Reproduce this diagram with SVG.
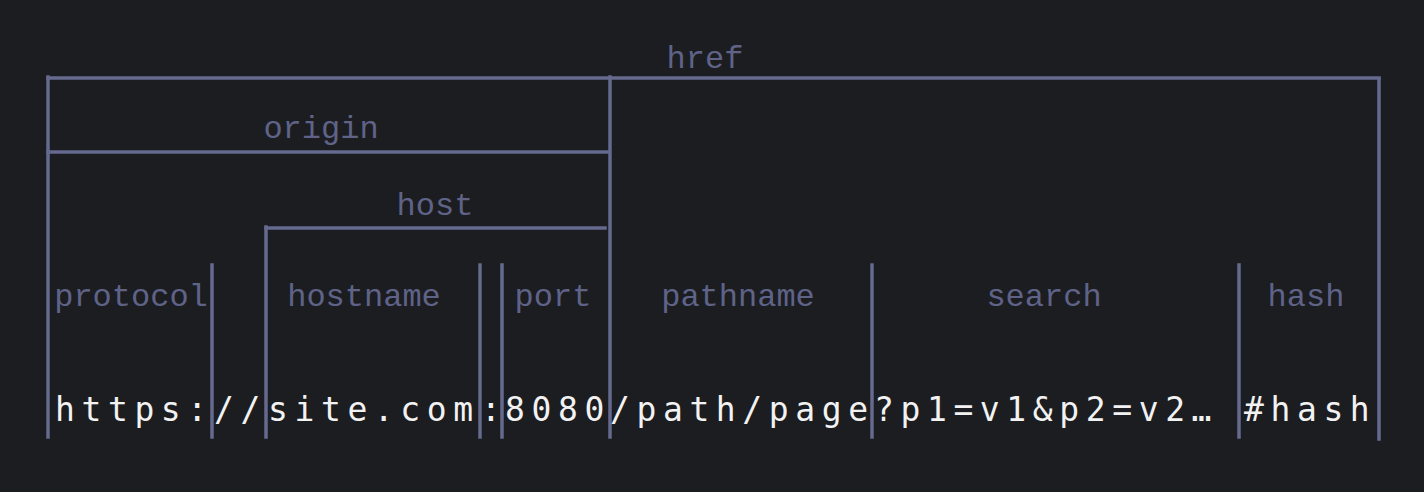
<svg xmlns="http://www.w3.org/2000/svg" width="1424" height="492" viewBox="0 0 1424 492">
<style>
.ln{stroke:#666a8e;stroke-width:3.5;fill:none;stroke-linecap:square}
.lbl{font-family:"Liberation Mono","DejaVu Sans Mono",monospace;font-size:32px;fill:#5f6388;text-anchor:middle}
.url{font-family:"DejaVu Sans Mono","Liberation Mono",monospace;font-size:33px;fill:#f2f2f2;letter-spacing:6.6px}
</style>
<rect x="0" y="0" width="1424" height="492" fill="#1c1d21"/>
<g id="connectors">
<line class="ln" x1="48" y1="78" x2="1379" y2="78"/>
<line class="ln" x1="48" y1="152" x2="609" y2="152"/>
<line class="ln" x1="266" y1="228" x2="605" y2="228"/>
<line class="ln" x1="48" y1="77" x2="48" y2="437"/>
<line class="ln" x1="610" y1="77" x2="610" y2="437"/>
<line class="ln" x1="1379" y1="79" x2="1379" y2="439"/>
<line class="ln" x1="266" y1="227" x2="266" y2="437"/>
<line class="ln" x1="212" y1="265" x2="212" y2="437"/>
<line class="ln" x1="480" y1="265" x2="480" y2="437"/>
<line class="ln" x1="502" y1="265" x2="502" y2="437"/>
<line class="ln" x1="872" y1="265" x2="872" y2="437"/>
<line class="ln" x1="1239" y1="265" x2="1239" y2="437"/>
</g>
<g id="href"><text class="lbl" x="705" y="68">href</text></g>
<g id="origin"><text class="lbl" x="321" y="138">origin</text></g>
<g id="host"><text class="lbl" x="435" y="215">host</text></g>
<g id="protocol"><text class="lbl" x="131" y="306">protocol</text><text class="url" x="55" y="421">https:</text></g>
<g id="slashes"><text class="url" x="214" y="421">//</text></g>
<g id="hostname"><text class="lbl" x="364" y="306">hostname</text><text class="url" x="268" y="421">site.com</text></g>
<g id="colon"><text class="url" x="481" y="421">:</text></g>
<g id="port"><text class="lbl" x="553" y="306">port</text><text class="url" x="505" y="421">8080</text></g>
<g id="pathname"><text class="lbl" x="738" y="306">pathname</text><text class="url" x="610" y="421">/path/page</text></g>
<g id="search"><text class="lbl" x="1044" y="306">search</text><text class="url" x="874" y="421">?p1=v1&amp;p2=v2…</text></g>
<g id="hash"><text class="lbl" x="1306" y="306">hash</text><text class="url" x="1244" y="421">#hash</text></g>
</svg>
